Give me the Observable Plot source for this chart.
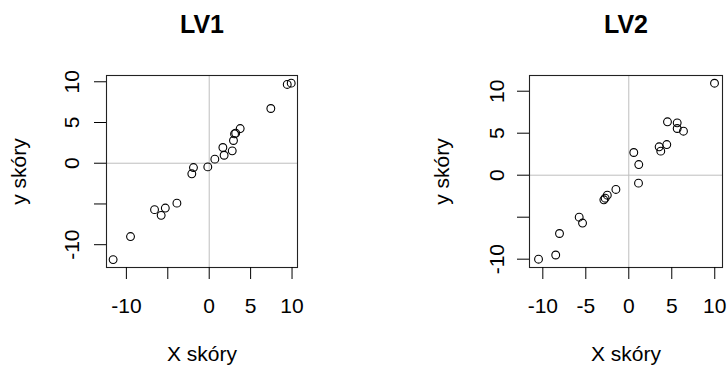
<!DOCTYPE html>
<html>
<head>
<meta charset="utf-8">
<script src="https://cdn.jsdelivr.net/npm/d3@7"></script>
<script src="https://cdn.jsdelivr.net/npm/@observablehq/plot@0.6"></script>
<style>
  html, body { margin: 0; padding: 0; background: #fff; }
  #wrap { display: flex; width: 727px; height: 369px; background: #fff; }
  #wrap svg { font-family: "Liberation Sans", Arial, sans-serif; }
</style>
</head>
<body>
<div id="wrap"></div>
<script>
// Panel titles
const titles = ["LV1", "LV2"];
const xLabel = "X skóry";
const yLabel = "y skóry";

// LV1 scores
const lv1X = [-11.6, -9.5, -6.6, -5.8, -5.3, -3.9, -2.1, -1.9, -0.17, 0.68, 1.65, 1.8, 2.78, 2.93, 3.06, 3.2, 3.74, 7.44, 9.42, 9.9];
const lv1Y = [-11.83, -9.0, -5.7, -6.4, -5.5, -4.9, -1.3, -0.53, -0.45, 0.5, 1.93, 0.98, 1.52, 2.79, 3.6, 3.69, 4.26, 6.72, 9.67, 9.83];

// LV2 scores
const lv2X = [-10.5, -8.5, -8.06, -5.77, -5.38, -2.9, -2.75, -2.5, -1.5, 0.58, 1.16, 1.13, 3.53, 3.72, 4.42, 4.5, 5.63, 5.63, 6.36, 9.97];
const lv2Y = [-10.0, -9.5, -6.94, -5.0, -5.7, -2.93, -2.74, -2.38, -1.7, 2.7, 1.27, -0.95, 3.38, 2.86, 3.65, 6.36, 6.23, 5.56, 5.24, 10.95];

// Ticks and their labels ("" = label dropped, as in the original)
const ticks = [-10, -5, 0, 5, 10];
const lv1XTickLabels = ["-10", "", "0", "5", "10"];
const lv1YTickLabels = ["-10", "", "0", "5", "10"];
const lv2XTickLabels = ["-10", "-5", "0", "5", "10"];
const lv2YTickLabels = ["-10", "", "0", "5", "10"];

function panel({title, xs, ys, xLabels, yLabels, width, margins, xDomain, yDomain, yTickDx}) {
  const data = xs.map((x, i) => ({x, y: ys[i]}));
  const xl = new Map(ticks.map((t, i) => [t, xLabels[i]]));
  const yl = new Map(ticks.map((t, i) => [t, yLabels[i]]));
  return Plot.plot({
    width, height: 369,
    marginLeft: margins[0], marginRight: margins[1], marginTop: margins[2], marginBottom: margins[3],
    style: {background: "#fff", color: "#000", fontFamily: "Liberation Sans, Arial, sans-serif"},
    x: {domain: xDomain},
    y: {domain: yDomain},
    marks: [
      Plot.ruleX([0], {stroke: "#bebebe", strokeWidth: 1}),
      Plot.ruleY([0], {stroke: "#bebebe", strokeWidth: 1}),
      Plot.dot(data, {x: "x", y: "y", r: 3.9, stroke: "#000", strokeWidth: 1.1, fill: "none"}),
      Plot.frame({stroke: "#222", strokeWidth: 1.1}),
      Plot.axisX({ticks, tickSize: 12, tickPadding: 19, fontSize: 21, tickFormat: d => xl.get(d), label: null}),
      Plot.axisY({ticks, tickSize: 12, tickFormat: () => "", label: null}),
      Plot.text(ticks, {y: d => d, text: d => yl.get(d), frameAnchor: "left", dx: yTickDx, rotate: -90,
        textAnchor: "middle", lineAnchor: "bottom", fontSize: 21, fill: "#000"}),
      Plot.text([title], {text: d => d, frameAnchor: "top", dy: -43, lineAnchor: "bottom",
        fontSize: 25, fontWeight: "bold", fill: "#000"}),
      Plot.text([xLabel], {text: d => d, frameAnchor: "bottom", dy: 93, lineAnchor: "bottom",
        fontSize: 21, fill: "#000"}),
      Plot.text([yLabel], {text: d => d, frameAnchor: "left", dx: -81, rotate: -90,
        textAnchor: "middle", lineAnchor: "bottom", fontSize: 21, fill: "#000"})
    ]
  });
}

const wrap = document.getElementById("wrap");
wrap.append(panel({
  title: titles[0], xs: lv1X, ys: lv1Y, xLabels: lv1XTickLabels, yLabels: lv1YTickLabels,
  width: 364, margins: [106, 67, 75, 102], xDomain: [-12.4, 10.66], yDomain: [-12.8, 10.77], yTickDx: -28
}));
wrap.append(panel({
  title: titles[1], xs: lv2X, ys: lv2Y, xLabels: lv2XTickLabels, yLabels: lv2YTickLabels,
  width: 363, margins: [165, 5, 75, 102], xDomain: [-11.55, 10.9], yDomain: [-10.99, 11.87], yTickDx: -26
}));
</script>
</body>
</html>
